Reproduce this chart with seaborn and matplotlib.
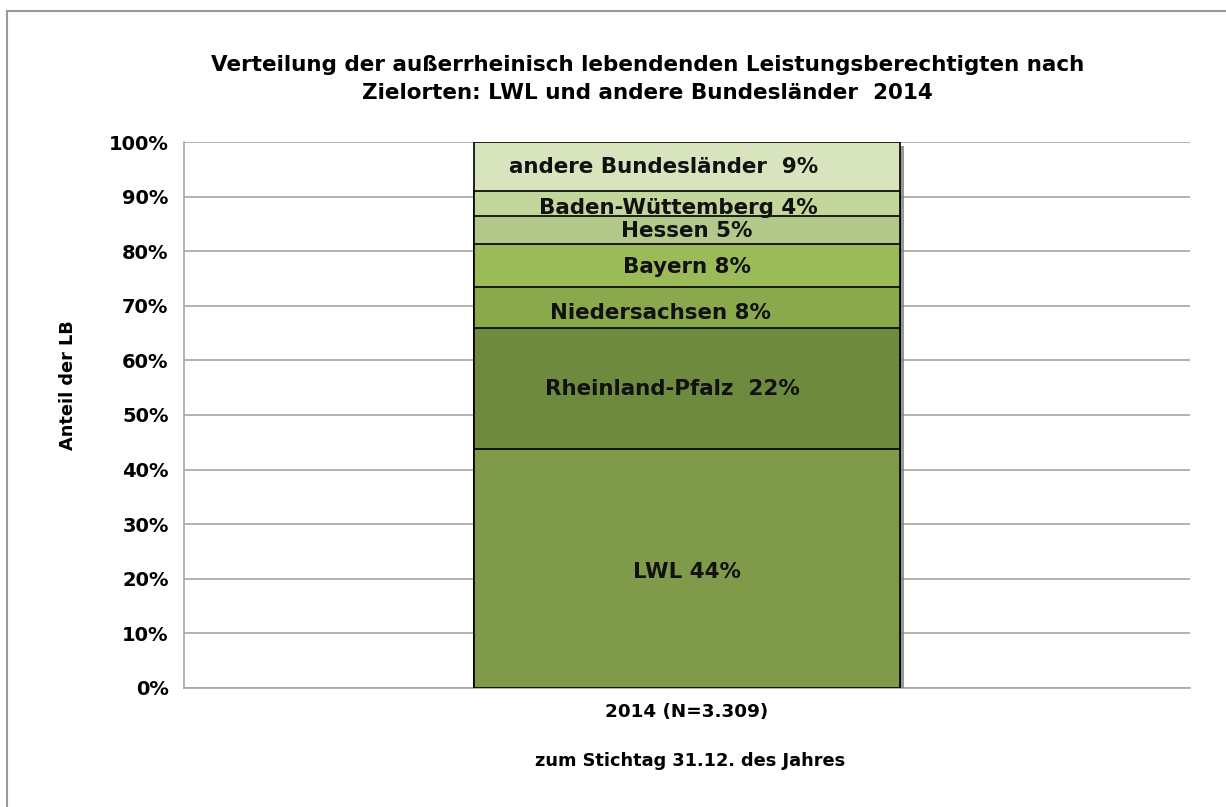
import matplotlib
matplotlib.use("Agg")
import matplotlib.pyplot as plt
import matplotlib.patheffects as pe
import seaborn as sns
import pandas as pd
import numpy as np

# Data (shares in %, bottom to top)
categories = ["LWL", "Rheinland-Pfalz", "Niedersachsen", "Bayern", "Hessen",
              "Baden-Wüttemberg", "andere Bundesländer"]
values = [43.8, 22.1, 7.5, 7.9, 5.1, 4.6, 9.0]
labels = ["LWL 44%", "Rheinland-Pfalz  22%", "Niedersachsen 8%", "Bayern 8%",
          "Hessen 5%", "Baden-Wüttemberg 4%", "andere Bundesländer  9%"]
year_label = "2014 (N=3.309)"

colors = ["#7F9B4A", "#6E8A3F", "#8AA84C", "#9BBB59", "#B3C98C", "#C3D69B", "#D7E4BD"]
label_dx = [0.0, -0.014, -0.026, 0.0, 0.0, -0.0085, -0.023]
label_dy = [-0.6, 0.0, -1.0, -0.3, -0.2, -0.8, 0.0]

sns.set_theme(style="white")
plt.rcParams['font.family'] = ['DejaVu Sans']
plt.rcParams['text.color'] = 'black'
plt.rcParams['xtick.color'] = 'black'
plt.rcParams['ytick.color'] = 'black'

fig = plt.figure(figsize=(12.26, 8.07), dpi=100)
ax = fig.add_axes([0.150, 0.1475, 0.8206, 0.6765])

cum = np.cumsum(values)
df = pd.DataFrame({"year": [year_label] * len(values), "top": cum, "cat": categories})

# draw stacked bars from top down so that smaller cumulative bars overlay
for i in range(len(values) - 1, -1, -1):
    sns.barplot(data=df.iloc[[i]], x="year", y="top", color=colors[i],
                edgecolor="black", linewidth=1.2, width=0.424, ax=ax,
                saturation=1, zorder=3)

# drop shadow for the full bar (the tallest one drawn first)
ax.patches[0].set_path_effects([pe.SimplePatchShadow(offset=(2.5, -2.5), shadow_rgbFace="#7f7f7f", alpha=0.8),
                                pe.Normal()])

bottoms = cum - np.array(values)
for i, lab in enumerate(labels):
    ax.text(0 + label_dx[i], bottoms[i] + values[i] / 2 + label_dy[i], lab,
            ha="center", va="center", fontsize=15.4, fontweight="bold",
            color="#111111", zorder=5)

ax.set_ylim(0, 100)
ax.set_xlim(-0.5, 0.5)
ax.set_yticks(np.arange(0, 101, 10))
ax.set_yticklabels([f"{v}%" for v in range(0, 101, 10)], fontsize=14,
                   fontweight="bold")
ax.tick_params(axis="y", length=0, pad=11)
ax.tick_params(axis="x", length=0, pad=11)
for t in ax.get_xticklabels():
    t.set_fontsize(13.2)
    t.set_fontweight("bold")
ax.yaxis.grid(True, color="#A6A6A6", linewidth=1.2, zorder=0)
ax.set_axisbelow(True)
for s in ["top", "right"]:
    ax.spines[s].set_visible(False)
ax.spines["left"].set_color("#A6A6A6")
ax.spines["bottom"].set_color("#A6A6A6")
ax.spines["left"].set_linewidth(1.2)
ax.spines["bottom"].set_linewidth(1.2)

ax.set_xlabel("")
ax.set_ylabel("")
fig.text(0.0555, 0.523, "Anteil der LB", rotation=90, ha="center", va="center",
         fontsize=12.8, fontweight="bold")
fig.text(0.563, 0.057, "zum Stichtag 31.12. des Jahres", ha="center", va="center",
         fontsize=12.8, fontweight="bold")
fig.text(0.528, 0.9015, "Verteilung der außerrheinisch lebendenden Leistungsberechtigten nach\nZielorten: LWL und andere Bundesländer  2014",
         ha="center", va="center", fontsize=15.5, fontweight="bold",
         linespacing=1.5)

# outer frame (top and left)
fig.add_artist(plt.Line2D([0.0057, 1.0], [0.986, 0.986], transform=fig.transFigure,
                          color="#999999", linewidth=1.5))
fig.add_artist(plt.Line2D([0.0057, 0.0057], [0.0, 0.986], transform=fig.transFigure,
                          color="#999999", linewidth=1.5))

fig.savefig("out.png", dpi=100, facecolor="white")
